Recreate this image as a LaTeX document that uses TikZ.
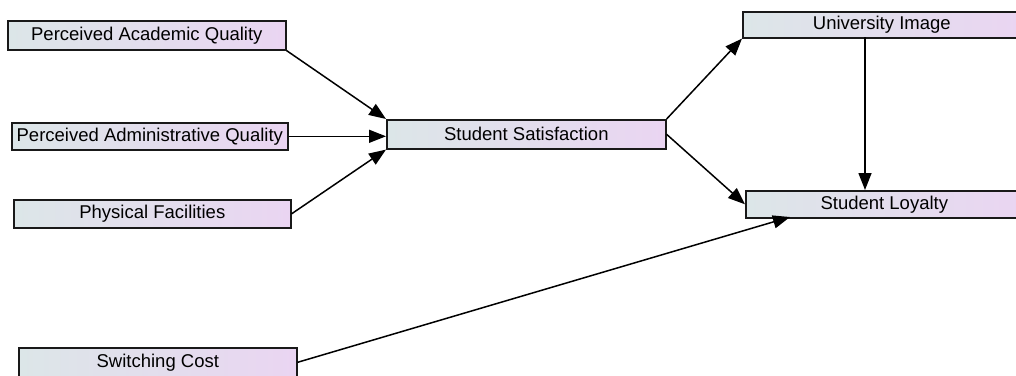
\documentclass[tikz,border=0pt]{standalone}
\usepackage{fontspec}
\setmainfont{Liberation Sans}
\usetikzlibrary{arrows.meta,calc}
\definecolor{boxleft}{RGB}{220,230,232}
\definecolor{boxright}{RGB}{234,213,242}
\definecolor{edgecol}{RGB}{25,25,25}
\tikzset{
  varbox/.style={draw=edgecol, line width=1.6pt, left color=boxleft, right color=boxright,
    inner sep=0pt, anchor=north west, font=\fontsize{18.5}{20}\selectfont},
  path/.style={draw=black, line width=1.5pt, -{Triangle[length=17pt,width=13pt]}}
}
\begin{document}
\begin{tikzpicture}[x=1pt,y=-1pt]
\path[use as bounding box] (0,0) rectangle (1016,375);
\clip (0,0) rectangle (1016,375);
\node[varbox, minimum width=278pt, minimum height=29pt] (A) at (7,20) {Perceived Academic Quality};
\node[varbox, minimum width=276pt, minimum height=27pt] (B) at (11,122) {Perceived Administrative Quality};
\node[varbox, minimum width=277pt, minimum height=28pt] (C) at (13,199) {Physical Facilities};
\node[varbox, minimum width=278pt, minimum height=29pt] (D) at (18,347) {Switching Cost};
\node[varbox, minimum width=279pt, minimum height=29pt] (S) at (386,119) {Student Satisfaction};
\node[varbox, minimum width=278pt, minimum height=26pt] (U) at (742,11) {University Image};
\node[varbox, minimum width=277pt, minimum height=27pt] (L) at (745,190) {Student Loyalty};
\coordinate (Ltop) at (865,190);
\coordinate (Utop) at (865,37);
\coordinate (Lbot) at (790,217);
\draw[path] (A.south east) -- (S.north west);
\draw[path] (B.east) -- (B.east -| S.west);
\draw[path] (C.east) -- (S.south west);
\draw[path] (S.north east) -- (U.south west);
\draw[path] (S.east) -- (L.west);
\draw[path] (Utop) -- (Ltop);
\draw[path] (D.east) -- (Lbot);
\end{tikzpicture}
\end{document}
